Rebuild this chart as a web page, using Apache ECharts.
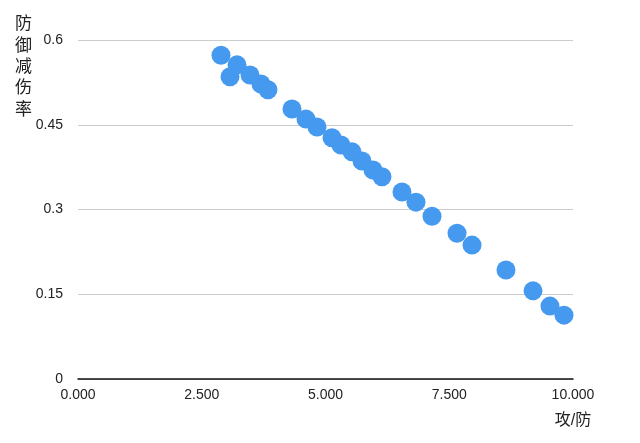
<!DOCTYPE html>
<html><head><meta charset="utf-8">
<script src="https://cdn.jsdelivr.net/npm/echarts@6/dist/echarts.min.js"></script>
<style>html,body{margin:0;padding:0;background:#fff}#c{width:640px;height:443px}</style>
</head><body><div id="c"></div>
<script>
const atkDefRatio = [2.889,3.212,3.071,3.475,3.697,3.838,4.323,4.606,4.828,5.131,5.313,5.535,5.737,5.960,6.141,6.545,6.828,7.152,7.657,7.960,8.646,9.192,9.535,9.818];
const defReduction = [0.573,0.556,0.535,0.538,0.522,0.512,0.478,0.460,0.446,0.427,0.414,0.402,0.386,0.370,0.358,0.331,0.313,0.288,0.258,0.237,0.193,0.156,0.129,0.113];
const xTicks = [0, 2.5, 5, 7.5, 10];
const yTicks = [0, 0.15, 0.3, 0.45, 0.6];
const xName = '攻/防';
const yName = '防御减伤率';

const chart = echarts.init(document.getElementById('c'));
const font = 'Helvetica, "Liberation Sans", Arial, "Noto Sans CJK SC", sans-serif';
chart.setOption({
  animation: false,
  grid: {left: 78, right: 67, top: 40, bottom: 64},
  xAxis: {
    type: 'value', min: xTicks[0], max: xTicks[xTicks.length-1], interval: 2.5,
    name: xName, nameLocation: 'end', nameGap: 0,
    nameTextStyle: {fontSize: 16, color: '#222', fontFamily: font, align: 'center', verticalAlign: 'top', padding: [34, 0, 0, 0]},
    axisLine: {lineStyle: {color: '#111', width: 1.5}},
    axisTick: {show: false},
    splitLine: {show: false},
    axisLabel: {color: '#222', fontSize: 14, fontFamily: font, margin: 9,
      formatter: v => v.toFixed(3)}
  },
  yAxis: {
    type: 'value', min: 0, max: 0.6, interval: 0.15,
    axisLine: {show: false}, axisTick: {show: false},
    splitLine: {lineStyle: {color: '#cccccc', width: 1}},
    axisLabel: {color: '#222', fontSize: 14, fontFamily: font, margin: 15,
      formatter: v => String(Math.round(v*100)/100)}
  },
  graphic: [{
    type: 'text', left: 15, top: 14,
    style: {text: yName.split('').join('\n'), fontSize: 17, lineHeight: 21.3, fill: '#222', fontFamily: font}
  }],
  series: [{
    type: 'scatter',
    symbolSize: 19,
    itemStyle: {color: '#4599ef', opacity: 1},
    data: atkDefRatio.map((x, i) => [x, defReduction[i]])
  }]
});
</script></body></html>
